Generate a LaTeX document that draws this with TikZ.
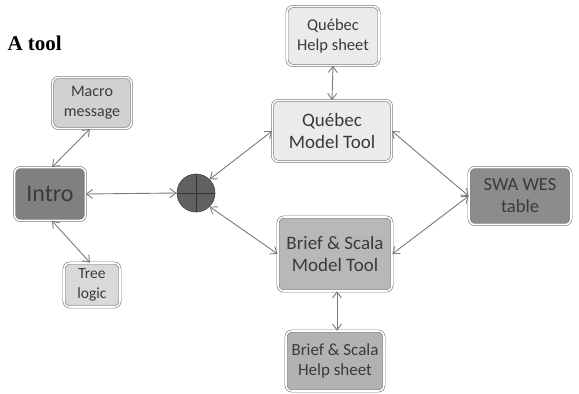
\documentclass[tikz,border=0pt]{standalone}
\usepackage{fontspec}
\setmainfont{Carlito}
\newfontfamily\titlefont{Liberation Serif}
\usetikzlibrary{arrows.meta}
\definecolor{txt}{HTML}{3a3a3a}
\definecolor{edge}{HTML}{7a7a7a}
\tikzset{
  box/.style={rounded corners=6pt, draw=edge, line width=0.6pt, double=white, double distance=1.6pt,
    align=center, text=txt, inner sep=0pt, font=#1},
  link/.style={draw=edge, line width=0.9pt, {Straight Barb[length=6pt,width=9pt]}-{Straight Barb[length=6pt,width=9pt]}},
}
\begin{document}
\begin{tikzpicture}[x=1pt,y=-1pt]
\useasboundingbox (0,0) rectangle (579,394);
\node[anchor=base east, font=\titlefont\bfseries\fontsize{21}{24}\selectfont, inner sep=0pt] (title) at (62,50) {A tool};

\node[box={\fontsize{16}{20}\selectfont}, fill=black!18, minimum width=79pt, minimum height=51pt] (macro) at (92,103) {Macro\\message};
\node[box={\fontsize{24}{28}\selectfont}, fill=black!50, minimum width=71pt, minimum height=53pt] (intro) at (50,194) {Intro};
\node[box={\fontsize{15.5}{20}\selectfont}, fill=black!15, minimum width=56pt, minimum height=44pt] (tree) at (92,285) {Tree\\logic};

\node[circle, draw=black!75, fill=black!62, line width=0.6pt, minimum size=38pt, inner sep=0pt] (hub) at (196,193) {};
\draw[black!80, line width=0.6pt] (hub.north) -- (hub.south) (hub.west) -- (hub.east);

\node[box={\fontsize{16.5}{20}\selectfont}, fill=black!8, minimum width=92pt, minimum height=59pt] (qhelp) at (333,36) {Québec\\Help sheet};
\node[box={\fontsize{19}{22}\selectfont}, fill=black!8, minimum width=119pt, minimum height=61pt] (qmodel) at (332,131) {Québec\\Model Tool};
\node[box={\fontsize{19}{22}\selectfont}, fill=black!28, minimum width=114pt, minimum height=74pt] (bmodel) at (335,254) {Brief \& Scala\\Model Tool};
\node[box={\fontsize{17}{20}\selectfont}, fill=black!30, minimum width=98pt, minimum height=60pt] (bhelp) at (335,361) {Brief \& Scala\\Help sheet};
\node[box={\fontsize{18.5}{22}\selectfont}, fill=black!45, minimum width=102pt, minimum height=57pt] (swa) at (520,196) {SWA WES\\table};

\draw[link] ([xshift=2pt]intro.north) -- ([xshift=-2pt]macro.south);
\draw[link] ([xshift=2pt]intro.south) -- ([xshift=-2pt]tree.north);
\draw[link] (intro.east) -- (hub.west);
\draw[link] (hub.north east) -- (qmodel.west);
\draw[link] (hub.south east) -- (bmodel.west);
\draw[link] (qhelp.south) -- (qmodel.north);
\draw[link] ([xshift=2pt]bmodel.south) -- ([xshift=2pt]bhelp.north);
\draw[link] (qmodel.east) -- (swa.west);
\draw[link] (bmodel.east) -- (swa.west);
\end{tikzpicture}
\end{document}
